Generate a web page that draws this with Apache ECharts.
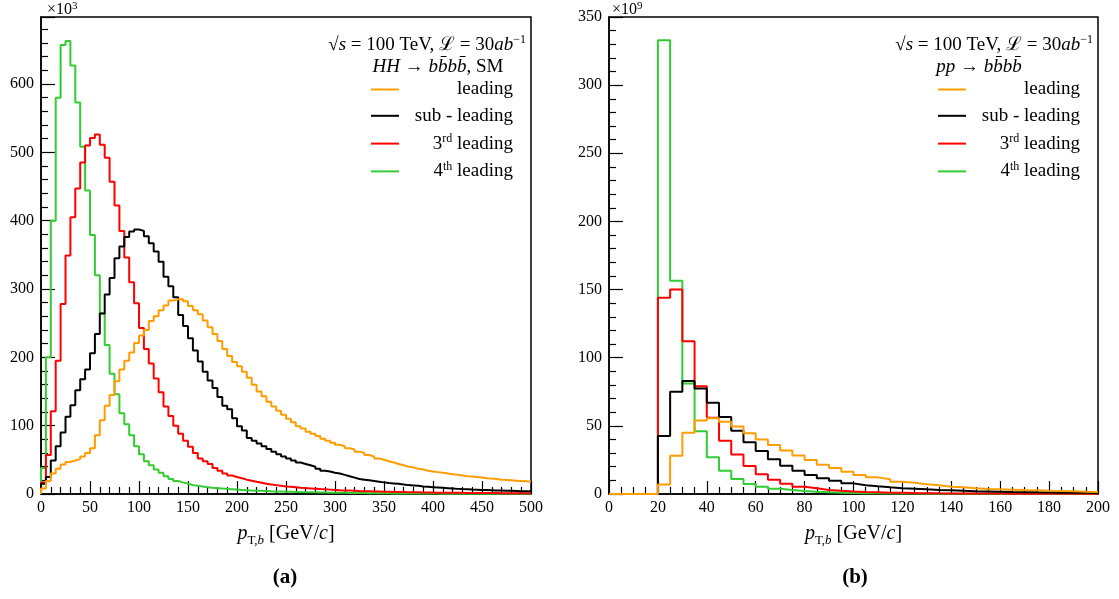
<!DOCTYPE html>
<html><head><meta charset="utf-8">
<script src="https://cdn.jsdelivr.net/npm/echarts@6/dist/echarts.min.js"></script>
<style>html,body{margin:0;padding:0;background:#fff}#c{width:1119px;height:599px}</style>
</head><body><div id="c"></div>
<script>
// ---- data (bin width 5 GeV) ----
const binWidth = 5;
// Panel (a): HH -> bbbb, SM ; pT 0-500 GeV ; y in units of 10^3
const hhLeading = [8, 19, 30, 37, 43, 47, 49, 51, 55, 60,
  67, 86, 108, 129, 145, 165, 182, 195, 207, 221,
  232, 240, 253, 260, 269, 276, 283, 285, 285, 282,
  275, 269, 263, 254, 244, 234, 224, 212, 202, 193,
  187, 179, 170, 160, 150, 143, 135, 128, 122, 116,
  110, 105, 99, 96, 91, 88, 85, 81, 78, 75,
  72, 70, 67, 65, 62, 60, 57, 55, 52, 50,
  48, 46, 44, 42, 40, 39, 37, 36, 34, 33,
  32, 31, 30, 29, 28, 27, 26, 25.5, 25, 24,
  23, 22.5, 22, 21, 20.5, 20, 19.5, 19, 18.5, 18];
const hhSubLeading = [15, 25, 49, 70, 90, 113, 130, 152, 168, 182,
  206, 234, 264, 292, 316, 345, 362, 376, 384, 387,
  385, 377, 367, 355, 340, 318, 304, 288, 262, 246,
  228, 210, 194, 179, 166, 155, 142, 129, 124, 111,
  99, 93, 82, 78, 74, 70, 66, 62, 58, 55,
  52, 49, 46, 44, 42, 40, 37, 34, 33, 31,
  30, 28, 26, 24, 22, 21, 20, 19, 18, 17,
  16, 15.5, 15, 14, 13, 12.5, 12, 11, 10.5, 10,
  9.5, 9, 8.5, 8, 7.5, 7.2, 7, 6.6, 6.3, 6,
  5.8, 5.5, 5.2, 5, 4.8, 4.6, 4.4, 4.2, 4, 4];
const hhThird = [17, 57, 121, 195, 278, 349, 405, 447, 485, 510,
  521, 526, 511, 492, 457, 422, 385, 346, 310, 279,
  243, 212, 191, 169, 149, 128, 114, 100, 88, 78,
  69, 60, 52, 48, 44, 38, 34, 30, 27, 25,
  23, 21, 19.5, 18, 16.5, 15, 14, 13, 12, 11,
  10.5, 10, 9.3, 8.7, 8.2, 7.7, 7.2, 6.8, 6.4, 6.0,
  5.6, 5.3, 5.0, 4.7, 4.4, 4.2, 4.0, 3.8, 3.6, 3.4,
  3.2, 3.0, 2.9, 2.8, 2.6, 2.5, 2.4, 2.3, 2.2, 2.1,
  2.0, 1.9, 1.85, 1.8, 1.7, 1.65, 1.6, 1.55, 1.5, 1.45,
  1.4, 1.35, 1.3, 1.25, 1.2, 1.15, 1.1, 1.05, 1.0, 1.0];
const hhFourth = [38, 200, 400, 580, 657, 663, 627, 573, 508, 444,
  379, 320, 264, 218, 176, 146, 118, 102, 86, 70,
  58, 48, 42, 36, 31, 26, 22, 19, 17, 15,
  13, 12, 11, 10, 9, 8.5, 8, 7.5, 7, 6.5,
  6, 5.5, 5, 4.8, 4.6, 4.3, 4.0, 3.8, 3.6, 3.4,
  3.2, 3.0, 2.8, 2.7, 2.5, 2.4, 2.3, 2.2, 2.0, 1.9,
  1.8, 1.7, 1.6, 1.5, 1.4, 1.3, 1.2, 1.2, 1.1, 1.0,
  1.0, 0.9, 0.9, 0.8, 0.8, 0.7, 0.7, 0.7, 0.6, 0.6,
  0.6, 0.5, 0.5, 0.5, 0.5, 0.4, 0.4, 0.4, 0.4, 0.3,
  0.3, 0.3, 0.3, 0.3, 0.3, 0.2, 0.2, 0.2, 0.2, 0.2];
// Panel (b): pp -> bbbb ; pT 0-200 GeV ; y in units of 10^9
const ppLeading = [0, 0, 0, 0, 7, 28, 45, 54, 55.5, 53,
  49.5, 44.5, 40, 36, 32, 28.3, 25, 21.5, 19, 16.4,
  14, 12.2, 10.8, 9.0, 8.3, 7.1, 6.4, 5.4, 4.9, 4.2,
  3.7, 3.4, 3.2, 2.9, 2.7, 2.4, 2.2, 2.0, 1.7, 1.5];
const ppSubLeading = [0, 0, 0, 0, 42.5, 75, 83, 77.5, 67, 56.5,
  46.5, 38, 31.5, 25.5, 20.7, 17, 14, 11.5, 9.8, 7.8,
  6.5, 5.6, 4.9, 4.3, 3.9, 3.4, 3.0, 2.7, 2.4, 2.1,
  1.9, 1.7, 1.5, 1.35, 1.2, 1.1, 1.0, 0.9, 0.85, 0.8];
const ppThird = [0, 0, 0, 0, 144, 150, 112, 79, 56, 39,
  29, 20.5, 14.5, 10.5, 7.5, 5.4, 4.2, 3.0, 2.3, 1.8,
  1.4, 1.2, 1.0, 0.85, 0.7, 0.6, 0.5, 0.45, 0.4, 0.35,
  0.3, 0.28, 0.25, 0.22, 0.2, 0.18, 0.16, 0.15, 0.14, 0.13];
const ppFourth = [0, 0, 0, 0, 333, 156.5, 81, 46, 27, 17,
  11, 7.3, 5.4, 3.9, 2.9, 2.2, 1.7, 1.3, 1.0, 0.8,
  0.6, 0.5, 0.4, 0.35, 0.3, 0.25, 0.2, 0.18, 0.15, 0.13,
  0.11, 0.1, 0.09, 0.08, 0.07, 0.06, 0.05, 0.05, 0.04, 0.04];

const seriesNames = ['leading', 'sub - leading', '3rd leading', '4th leading'];
const seriesColors = ['#ff9d00', '#000000', '#ff0000', '#33cc33'];
const axisA = {xMax: 500, xInterval: 50, xMinor: 5, yMax: 698, yInterval: 100, yMinor: 5, exponent: '3'};
const axisB = {xMax: 200, xInterval: 20, xMinor: 4, yMax: 350, yInterval: 50, yMinor: 5, exponent: '9'};

// ---- chart ----
const F = '"Liberation Serif", "Times New Roman", serif';
function histPoints(vals) {
  const pts = [[0, 0]];
  vals.forEach((v, i) => pts.push([i * binWidth, v]));
  pts.push([vals.length * binWidth, vals[vals.length - 1]]);
  return pts;
}
function mkSeries(idx, vals, axisIdx) {
  const c = seriesColors[idx];
  return {type: 'line', name: seriesNames[idx], xAxisIndex: axisIdx, yAxisIndex: axisIdx,
    data: histPoints(vals), step: 'end', symbol: 'none', showSymbol: false,
    color: c, itemStyle: {color: c}, lineStyle: {color: c, width: 2}, animation: false, clip: true};
}
const nameRich = {
  i: {fontFamily: F, fontStyle: 'italic', fontSize: 20, lineHeight: 26, color: '#000'},
  r: {fontFamily: F, fontSize: 20, lineHeight: 26, color: '#000'},
  sb: {fontFamily: F, fontSize: 13, lineHeight: 13, verticalAlign: 'bottom', color: '#000'},
  sbi: {fontFamily: F, fontStyle: 'italic', fontSize: 13, lineHeight: 13, verticalAlign: 'bottom', color: '#000'}
};
function xAxisCfg(gi, a) {
  return {type: 'value', gridIndex: gi, min: 0, max: a.xMax, interval: a.xInterval,
    axisLine: {show: true, onZero: false, lineStyle: {color: '#000', width: 1.5}},
    axisTick: {show: true, inside: true, length: 13, lineStyle: {color: '#000', width: 1.2}},
    minorTick: {show: true, splitNumber: a.xMinor, length: 7, lineStyle: {color: '#000', width: 1.2}},
    splitLine: {show: false}, minorSplitLine: {show: false},
    axisLabel: {color: '#000', fontFamily: F, fontSize: 16, margin: 6},
    name: '{i|p}{sb|T,}{sbi|b}{r| [GeV/}{i|c}{r|]}', nameLocation: 'middle', nameGap: 27,
    nameTextStyle: {rich: nameRich}
  };
}
function yAxisCfg(gi, a) {
  return {type: 'value', gridIndex: gi, min: 0, max: a.yMax, interval: a.yInterval,
    axisLine: {show: true, onZero: false, lineStyle: {color: '#000', width: 1.5}},
    axisTick: {show: true, inside: true, length: 14, lineStyle: {color: '#000', width: 1.2}},
    minorTick: {show: true, splitNumber: a.yMinor, length: 7, lineStyle: {color: '#000', width: 1.2}},
    splitLine: {show: false}, minorSplitLine: {show: false},
    axisLabel: {color: '#000', fontFamily: F, fontSize: 16, margin: 7, showMaxLabel: a.yMax % a.yInterval === 0}
  };
}
const legendRich = {
  n: {fontFamily: F, fontSize: 19, lineHeight: 22, align: 'right', color: '#000'},
  s: {fontFamily: F, fontSize: 12, lineHeight: 12, align: 'right', verticalAlign: 'top', color: '#000'}
};
function legendLabel(name) {
  const m = name.match(/^(\d)(rd|th)( .*)$/);
  if (m) return '{n|' + m[1] + '}{s|' + m[2] + '}{n|' + m[3] + '}';
  return '{n|' + name + '}';
}
function legendCfg(left) {
  return {orient: 'vertical', left: left, top: 80, padding: 0, itemWidth: 28, itemHeight: 2, itemGap: 7.3,
    icon: 'rect', data: seriesNames, formatter: legendLabel, selectedMode: false,
    textStyle: {width: 109, rich: legendRich}};
}
const txtRich = {
  r: {fontFamily: F, fontSize: 19, lineHeight: 22, fill: '#000'},
  i: {fontFamily: F, fontStyle: 'italic', fontSize: 19, lineHeight: 22, fill: '#000'},
  s: {fontFamily: F, fontSize: 12, lineHeight: 12, verticalAlign: 'top', fill: '#000'}
};
const expRich = {
  r: {fontFamily: F, fontSize: 16, lineHeight: 18, fill: '#000'},
  s: {fontFamily: F, fontSize: 11, lineHeight: 11, verticalAlign: 'top', fill: '#000'}
};
function txt(x, y, text, align, rich) {
  return {type: 'text', x: x, y: y, silent: true,
    style: {text: text, align: align, verticalAlign: 'middle', rich: rich, fill: '#000', fontFamily: F}};
}
const line1 = '{r|√}{i|s}{r| = 100 TeV, ℒ = 30}{i|ab}{s|−1}';
const option = {
  backgroundColor: '#fff',
  animation: false,
  grid: [
    {left: 41, top: 17, width: 490, height: 477, show: true, borderColor: '#000', borderWidth: 1.5, containLabel: false, outerBoundsMode: 'none'},
    {left: 609, top: 17, width: 489, height: 477, show: true, borderColor: '#000', borderWidth: 1.5, containLabel: false, outerBoundsMode: 'none'}
  ],
  xAxis: [xAxisCfg(0, axisA), xAxisCfg(1, axisB)],
  yAxis: [yAxisCfg(0, axisA), yAxisCfg(1, axisB)],
  legend: [legendCfg(371), legendCfg(938)],
  series: [
    mkSeries(3, hhFourth, 0), mkSeries(2, hhThird, 0), mkSeries(1, hhSubLeading, 0), mkSeries(0, hhLeading, 0),
    mkSeries(3, ppFourth, 1), mkSeries(2, ppThird, 1), mkSeries(1, ppSubLeading, 1), mkSeries(0, ppLeading, 1)
  ],
  graphic: [
    txt(47, 10, '{r|×10}{s|' + axisA.exponent + '}', 'left', expRich),
    txt(612, 10, '{r|×10}{s|' + axisB.exponent + '}', 'left', expRich),
    txt(526, 45, line1, 'right', txtRich),
    txt(438, 67, '{i|HH}{r| → }{i|bb̄bb̄}{r|, SM}', 'center', txtRich),
    txt(1093, 45, line1, 'right', txtRich),
    txt(979, 67, '{i|pp}{r| → }{i|bb̄bb̄}', 'center', txtRich),
    {type: 'text', x: 285, y: 578, silent: true, style: {text: '(a)', align: 'center', verticalAlign: 'middle', fill: '#000', font: 'bold 21px "Liberation Serif", serif'}},
    {type: 'text', x: 855, y: 578, silent: true, style: {text: '(b)', align: 'center', verticalAlign: 'middle', fill: '#000', font: 'bold 21px "Liberation Serif", serif'}}
  ]
};
const chart = echarts.init(document.getElementById('c'), null, {renderer: 'canvas'});
chart.setOption(option);
</script>
</body></html>
